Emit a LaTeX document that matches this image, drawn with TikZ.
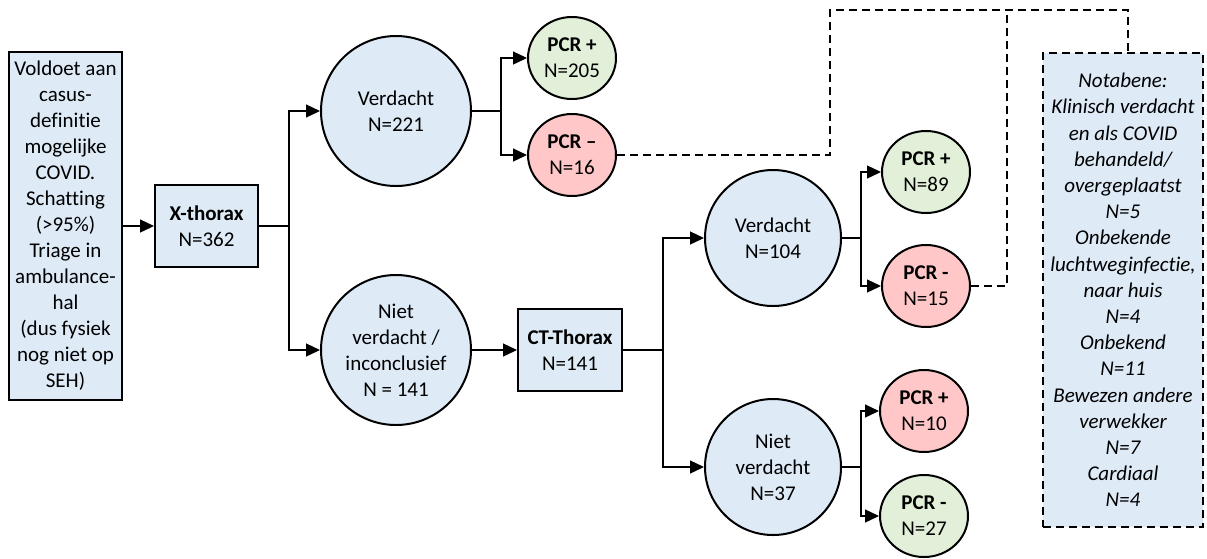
\documentclass[tikz,border=0pt]{standalone}
\usepackage{fontspec}
\setmainfont{Carlito}[Ligatures=NoCommon]
\usetikzlibrary{arrows.meta,shapes.geometric}
\definecolor{bluef}{HTML}{DEEBF7}
\definecolor{greenf}{HTML}{E2F0D9}
\definecolor{redf}{HTML}{FFC7C7}
\begin{document}
\begin{tikzpicture}[x=1pt,y=-1pt,
  every node/.style={font=\fontsize{21}{26}\selectfont, align=center, inner sep=0pt},
  box/.style={draw, line width=2pt, fill=bluef},
  bigc/.style={circle, draw, line width=2pt, fill=bluef, minimum size=150pt},
  midc/.style={circle, draw, line width=2pt, fill=bluef, minimum size=136pt},
  pcr/.style={ellipse, draw, line width=2pt, minimum width=88pt, minimum height=82pt},
  con/.style={line width=1.3pt},
  arr/.style={con, -{Triangle[length=14pt,width=13pt]}},
  dsh/.style={line width=2pt, dash pattern=on 8pt off 5pt}]
\useasboundingbox (0,0) rectangle (1207,558);
% nodes
\node[box, minimum width=113pt, minimum height=348pt] (start) at (65.5,226)
  {Voldoet aan\\casus-\\definitie\\mogelijke\\COVID.\\Schatting\\(>95\%)\\Triage in\\ambulance-\\hal\\(dus fysiek\\nog niet op\\SEH)};
\node[box, minimum width=103pt, minimum height=82pt] (xth) at (206.5,226) {\textbf{X-thorax}\\N=362};
\node[bigc] (v1) at (396,111) {Verdacht\\N=221};
\node[bigc] (nv1) at (396,350) {Niet\\verdacht /\\inconclusief\\N = 141};
\node[pcr, fill=greenf] (pp1) at (572,58) {\textbf{PCR +}\\N=205};
\node[pcr, fill=redf] (pm1) at (572,155) {\textbf{PCR –}\\N=16};
\node[box, minimum width=104pt, minimum height=82pt] (cth) at (570,350) {\textbf{CT-Thorax}\\N=141};
\node[midc] (v2) at (773,238) {Verdacht\\N=104};
\node[midc] (nv2) at (773,467) {Niet\\verdacht\\N=37};
\node[pcr, fill=greenf] (pp2) at (926,172) {\textbf{PCR +}\\N=89};
\node[pcr, fill=redf] (pm2) at (926,286) {\textbf{PCR -}\\N=15};
\node[pcr, fill=redf] (pp3) at (924,411) {\textbf{PCR +}\\N=10};
\node[pcr, fill=greenf] (pm3) at (924,516) {\textbf{PCR -}\\N=27};
\node[box, dsh, minimum width=160pt, minimum height=474pt, font=\fontsize{21}{26.2}\selectfont\itshape] (nota) at (1123,290)
  {Notabene:\\Klinisch verdacht\\en als COVID\\behandeld/\\overgeplaatst\\N=5\\Onbekende\\luchtweginfectie,\\naar huis\\N=4\\Onbekend\\N=11\\Bewezen andere\\verwekker\\N=7\\Cardiaal\\N=4};
% branch coordinates
\coordinate (b1) at (289,226);
\coordinate (b2) at (501,111);
\coordinate (b3) at (663,350);
\coordinate (b4) at (861,238);
\coordinate (b5) at (861,467);
\coordinate (d1) at (830,10);
\coordinate (d2) at (1128,10);
\coordinate (d3) at (1007,10);
% connectors
\draw[arr] (start.east |- xth.west) -- (xth.west);
\draw[con] (xth.east) -- (b1);
\draw[arr] (b1) |- (v1.west);
\draw[arr] (b1) |- (nv1.west);
\draw[con] (v1.east) -- (b2);
\draw[arr] (b2) |- (pp1.west);
\draw[arr] (b2) |- (pm1.west);
\draw[arr] (nv1.east) -- (cth.west);
\draw[con] (cth.east) -- (b3);
\draw[arr] (b3) |- (v2.west);
\draw[arr] (b3) |- (nv2.west);
\draw[con] (v2.east) -- (b4);
\draw[arr] (b4) |- (pp2.west);
\draw[arr] (b4) |- (pm2.west);
\draw[con] (nv2.east) -- (b5);
\draw[arr] (b5) |- (pp3.west);
\draw[arr] (b5) |- (pm3.west);
% dashed links
\draw[dsh] (pm1.east) -| (d1) -- (d2) -- (nota.north -| d2);
\draw[dsh] (pm2.east) -| (d3);
\end{tikzpicture}
\end{document}
